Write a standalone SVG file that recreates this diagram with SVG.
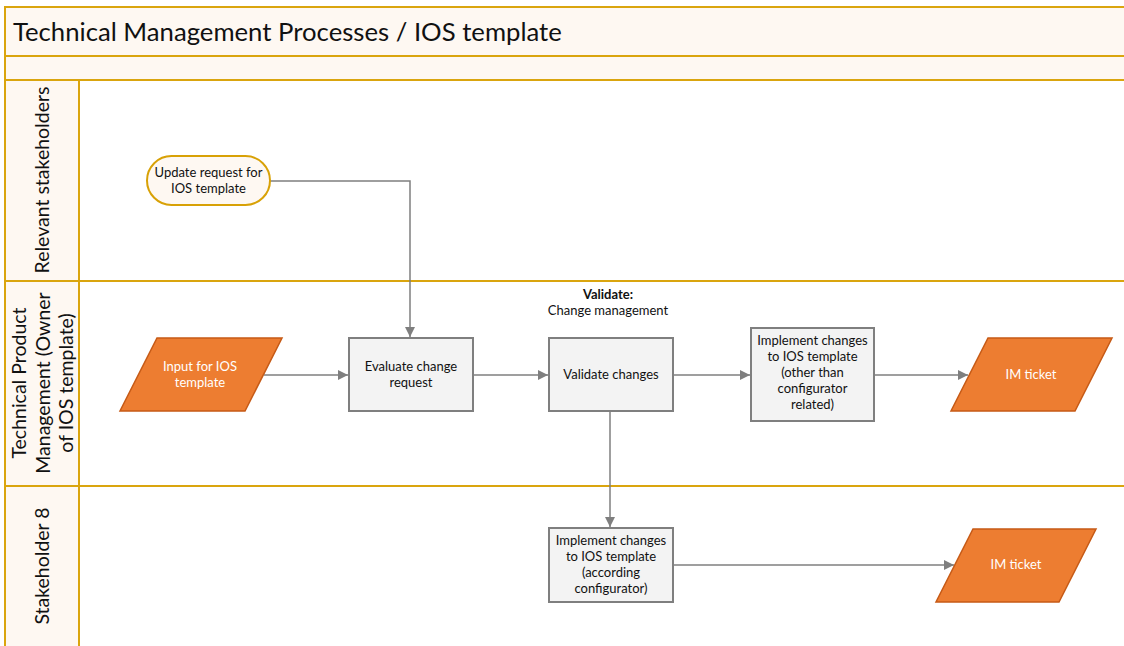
<svg xmlns="http://www.w3.org/2000/svg" width="1124" height="646" viewBox="0 0 1124 646">
  <defs>
    <marker id="arrow" viewBox="0 0 10 10" refX="10" refY="5" markerWidth="10" markerHeight="10" markerUnits="userSpaceOnUse" orient="auto">
      <path d="M0,0 L10,5 L0,10 z" fill="#7f7f7f"/>
    </marker>
    <style>
      .band { fill: #fef8f2; stroke: #daa50e; stroke-width: 2; }
      .lane { fill: #ffffff; stroke: #daa50e; stroke-width: 2; }
      .hdr { fill: #fef8f2; stroke: #daa50e; stroke-width: 2; }
      .title { font-family: Lato, "Liberation Sans", sans-serif; font-size: 25.7px; fill: #111; }
      .lanetxt { font-family: Lato, "Liberation Sans", sans-serif; font-size: 19.5px; fill: #111; text-anchor: middle; }
      .proc { fill: #f3f3f3; stroke: #7f7f7f; stroke-width: 2; }
      .io { fill: #ed7d31; stroke: #c65a16; stroke-width: 1.5; }
      .term { fill: #fef8f2; stroke: #d8a106; stroke-width: 2; }
      .t { font-family: Lato, "Liberation Sans", sans-serif; font-size: 13px; fill: #111; text-anchor: middle; }
      .tw { font-family: Lato, "Liberation Sans", sans-serif; font-size: 13px; fill: #ffffff; text-anchor: middle; }
      .b { font-weight: bold; }
      .conn { fill: none; stroke: #7f7f7f; stroke-width: 1.5; marker-end: url(#arrow); }
    </style>
  </defs>

  <!-- pool frame and title -->
  <g id="pool">
    <rect class="band" x="5" y="7" width="1130" height="49"/>
    <rect class="band" x="5" y="56" width="1130" height="24"/>
    <text class="title" x="13" y="41">Technical Management Processes / IOS template</text>
  </g>

  <!-- swimlanes -->
  <g id="lane-stakeholders">
    <rect class="lane" x="5" y="80" width="1130" height="201"/>
    <rect class="hdr" x="5" y="80" width="74" height="201"/>
    <text class="lanetxt" transform="translate(49,180) rotate(-90)">Relevant stakeholders</text>
  </g>
  <g id="lane-tpm">
    <rect class="lane" x="5" y="281" width="1130" height="205"/>
    <rect class="hdr" x="5" y="281" width="74" height="205"/>
    <text class="lanetxt" transform="translate(26,383) rotate(-90)">Technical Product</text>
    <text class="lanetxt" transform="translate(50,383) rotate(-90)">Management (Owner</text>
    <text class="lanetxt" transform="translate(73,383) rotate(-90)">of IOS template)</text>
  </g>
  <g id="lane-stakeholder8">
    <rect class="lane" x="5" y="486" width="1130" height="170"/>
    <rect class="hdr" x="5" y="486" width="74" height="170"/>
    <text class="lanetxt" transform="translate(49,566) rotate(-90)">Stakeholder 8</text>
  </g>

  <!-- connectors -->
  <g id="connectors">
    <path class="conn" d="M270,181 H410 V337"/>
    <path class="conn" d="M264,375 H348"/>
    <path class="conn" d="M473,375 H548"/>
    <path class="conn" d="M673,375 H750"/>
    <path class="conn" d="M874,375 H968"/>
    <path class="conn" d="M610,411 V527"/>
    <path class="conn" d="M673,565 H954"/>
  </g>

  <!-- nodes -->
  <g id="update-request">
    <rect class="term" x="147" y="156" width="123" height="49" rx="24.5"/>
    <text class="t" x="208.5" y="177">Update request for</text>
    <text class="t" x="208.5" y="193">IOS template</text>
  </g>

  <g id="input-ios">
    <polygon class="io" points="157,338 282,338 245,411 120,411"/>
    <text class="tw" x="200" y="371">Input for IOS</text>
    <text class="tw" x="200" y="387">template</text>
  </g>

  <g id="evaluate">
    <rect class="proc" x="349" y="338" width="124" height="73"/>
    <text class="t" x="411" y="371">Evaluate change</text>
    <text class="t" x="411" y="387">request</text>
  </g>

  <g id="validate-label">
    <text class="t b" x="608" y="299">Validate:</text>
    <text class="t" x="608" y="315">Change management</text>
  </g>

  <g id="validate">
    <rect class="proc" x="549" y="338" width="124" height="73"/>
    <text class="t" x="611" y="379">Validate changes</text>
  </g>

  <g id="implement-other">
    <rect class="proc" x="751" y="328" width="123" height="93"/>
    <text class="t" x="812.5" y="345">Implement changes</text>
    <text class="t" x="812.5" y="361">to IOS template</text>
    <text class="t" x="812.5" y="377">(other than</text>
    <text class="t" x="812.5" y="393">configurator</text>
    <text class="t" x="812.5" y="409">related)</text>
  </g>

  <g id="im-ticket-1">
    <polygon class="io" points="988,338 1112,338 1075,411 951,411"/>
    <text class="tw" x="1031" y="379">IM ticket</text>
  </g>

  <g id="implement-config">
    <rect class="proc" x="549" y="528" width="124" height="74"/>
    <text class="t" x="611" y="545">Implement changes</text>
    <text class="t" x="611" y="561">to IOS template</text>
    <text class="t" x="611" y="577">(according</text>
    <text class="t" x="611" y="593">configurator)</text>
  </g>

  <g id="im-ticket-2">
    <polygon class="io" points="973,529 1096,529 1059,602 936,602"/>
    <text class="tw" x="1016" y="569">IM ticket</text>
  </g>
</svg>
